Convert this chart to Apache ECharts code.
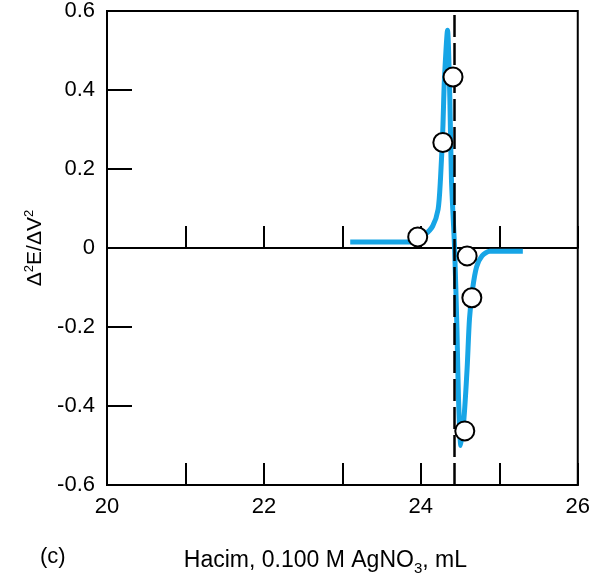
<!DOCTYPE html>
<html>
<head>
<meta charset="utf-8">
<script src="https://cdn.jsdelivr.net/npm/echarts@6/dist/echarts.min.js"></script>
<style>
html,body{margin:0;padding:0;background:#fff;}
#c{width:593px;height:581px;}
</style>
</head>
<body>
<div id="c"></div>
<script>
// Fitted curve (volume mL, second derivative)
const curveX = [23.10, 23.92, 24.05, 24.15, 24.22, 24.25, 24.28, 24.30, 24.34, 24.37, 24.39, 24.43, 24.46, 24.48, 24.51, 24.55, 24.59, 24.62, 24.66, 24.71, 24.78, 24.88, 25.30];
const curveY = [0.015, 0.015, 0.033, 0.055, 0.098, 0.174, 0.30, 0.425, 0.551, 0.375, 0.174, 0.0, -0.204, -0.38, -0.50, -0.43, -0.304, -0.179, -0.103, -0.048, -0.02, -0.008, -0.008];
// Measured points
const pointX = [23.96, 24.28, 24.41, 24.59, 24.65, 24.56];
const pointY = [0.028, 0.267, 0.433, -0.02, -0.126, -0.463];
// Equivalence point
const equivalenceX = [24.43];
// Axis tick labels
const xTickLabels = ['20', '22', '24', '26'];
const yTickLabels = ['-0.6', '-0.4', '-0.2', '0', '0.2', '0.4', '0.6'];

const FONT = '"Liberation Sans", Arial, sans-serif';
const chart = echarts.init(document.getElementById('c'));
const curveData = curveX.map((x, i) => [x, curveY[i]]);
const pointData = pointX.map((x, i) => [x, pointY[i]]);

chart.setOption({
  animation: false,
  backgroundColor: '#fff',
  grid: {left: 107, right: 15, top: 11, bottom: 94, show: true, borderColor: '#000', borderWidth: 2, backgroundColor: 'transparent'},
  xAxis: [{
    type: 'value', min: 20, max: 26, interval: 1,
    axisLine: {onZero: false, lineStyle: {color: '#000', width: 2}},
    axisTick: {inside: true, length: 22, lineStyle: {color: '#000', width: 2}},
    axisLabel: {
      color: '#000', fontSize: 22, fontFamily: FONT, margin: 11,
      formatter: v => { const s = String(Math.round(v)); return xTickLabels.indexOf(s) >= 0 ? s : ''; }
    },
    splitLine: {show: false},
    name: '{a|Hacim, 0.100 M AgNO}{b|3}{a|, mL}',
    nameLocation: 'middle', nameGap: 61,
    nameTextStyle: {
      padding: [0, 34, 0, 0],
      rich: {
        a: {fontSize: 23, fontFamily: FONT, color: '#000', lineHeight: 30},
        b: {fontSize: 15, fontFamily: FONT, color: '#000', lineHeight: 15, verticalAlign: 'bottom'}
      }
    }
  }, {
    type: 'value', min: 20, max: 26, interval: 1, position: 'bottom',
    axisLine: {onZero: true, lineStyle: {color: '#000', width: 2}},
    axisTick: {inside: true, length: 22, lineStyle: {color: '#000', width: 2}},
    axisLabel: {show: false},
    splitLine: {show: false}
  }],
  yAxis: {
    type: 'value', min: -0.6, max: 0.6, interval: 0.2,
    axisLine: {show: true, onZero: false, lineStyle: {color: '#000', width: 2}},
    axisTick: {inside: true, length: 25, lineStyle: {color: '#000', width: 2}},
    axisLabel: {
      color: '#000', fontSize: 22, fontFamily: FONT, margin: 12,
      formatter: v => { const s = Math.abs(v) < 1e-9 ? '0' : v.toFixed(1); return yTickLabels.indexOf(s) >= 0 ? s : ''; }
    },
    splitLine: {show: false},
    name: '{a|Δ}{s|2}{a|E/ΔV}{s|2}', nameLocation: 'middle', nameRotate: 90, nameGap: 58,
    nameTextStyle: {
      rich: {
        a: {fontSize: 21, fontFamily: FONT, color: '#000', lineHeight: 26},
        s: {fontSize: 13, fontFamily: FONT, color: '#000', lineHeight: 13, verticalAlign: 'top'}
      }
    }
  },
  graphic: [{
    type: 'text', left: 40, top: 546,
    style: {text: '(c)', fontSize: 22, fontFamily: FONT, fill: '#000'}
  }],
  series: [{
    type: 'line', data: curveData, xAxisIndex: 0, smooth: 0.25, showSymbol: false,
    lineStyle: {color: '#17a5e6', width: 5}, z: 2,
    markLine: {
      silent: true, symbol: 'none', label: {show: false},
      lineStyle: {color: '#000', width: 2.5, type: [22, 6]},
      data: equivalenceX.map(x => ({xAxis: x}))
    }
  }, {
    type: 'scatter', data: pointData, xAxisIndex: 0, symbol: 'circle', symbolSize: 19,
    itemStyle: {color: '#fff', borderColor: '#000', borderWidth: 2, opacity: 1}, z: 5
  }]
});
</script>
</body>
</html>
